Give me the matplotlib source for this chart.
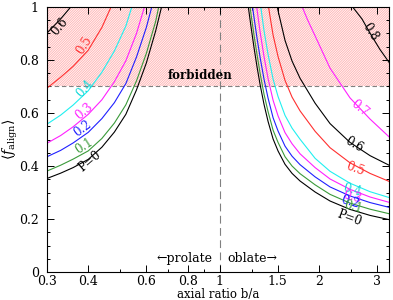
import numpy as np
import matplotlib
matplotlib.use("Agg")
import matplotlib.pyplot as plt
from matplotlib.ticker import FixedLocator, NullFormatter

plt.rcParams['font.family'] = ['DejaVu Serif']
plt.rcParams['mathtext.fontset'] = 'dejavuserif'
plt.rcParams['hatch.linewidth'] = 0.5
plt.rcParams['hatch.color'] = '#ffaaaa'

# ---- prolate side (b/a < 1) ----
pro_x_00 = [0.30, 0.33, 0.36, 0.40, 0.44, 0.48, 0.52, 0.56, 0.60, 0.64, 0.667]
pro_y_00 = [0.353, 0.373, 0.394, 0.425, 0.471, 0.528, 0.595, 0.687, 0.789, 0.909, 1.0]
pro_x_01 = [0.30, 0.33, 0.36, 0.40, 0.44, 0.48, 0.52, 0.56, 0.60, 0.64, 0.654]
pro_y_01 = [0.381, 0.403, 0.426, 0.457, 0.504, 0.562, 0.631, 0.721, 0.825, 0.945, 1.0]
pro_x_02 = [0.30, 0.33, 0.36, 0.40, 0.44, 0.48, 0.52, 0.56, 0.60, 0.623]
pro_y_02 = [0.435, 0.459, 0.487, 0.527, 0.579, 0.639, 0.711, 0.811, 0.923, 1.0]
pro_x_03 = [0.30, 0.33, 0.36, 0.40, 0.44, 0.48, 0.52, 0.56, 0.592]
pro_y_03 = [0.486, 0.515, 0.548, 0.595, 0.650, 0.718, 0.797, 0.900, 1.0]
pro_x_04 = [0.30, 0.33, 0.36, 0.40, 0.44, 0.48, 0.52, 0.542]
pro_y_04 = [0.558, 0.592, 0.630, 0.684, 0.754, 0.834, 0.928, 1.0]
pro_x_05 = [0.30, 0.33, 0.36, 0.40, 0.44, 0.469]
pro_y_05 = [0.694, 0.735, 0.776, 0.837, 0.923, 1.0]
pro_x_06 = [0.30, 0.33, 0.354]
pro_y_06 = [0.902, 0.955, 1.0]

# ---- oblate side (b/a > 1) ----
obl_x_00 = [1.222, 1.2455, 1.272, 1.2987, 1.3265, 1.3637, 1.4025, 1.4524, 1.5036,
            1.5785, 1.6578, 1.753, 1.947, 2.161, 2.484, 2.857, 3.262]
obl_y_00 = [1.0, 0.9245, 0.8453, 0.7736, 0.7075, 0.632, 0.568, 0.502, 0.4566,
            0.4064, 0.3721, 0.3434, 0.3019, 0.2679, 0.2362, 0.2136, 0.1977]
obl_x_01 = [1.237, 1.2455, 1.272, 1.2987, 1.3265, 1.3637, 1.4025, 1.4524, 1.5036,
            1.5785, 1.6578, 1.753, 1.947, 2.161, 2.484, 2.857, 3.262]
obl_y_01 = [1.0, 0.971, 0.892, 0.820, 0.750, 0.670, 0.605, 0.535, 0.489,
            0.435, 0.400, 0.371, 0.329, 0.293, 0.260, 0.237, 0.220]
obl_x_02 = [1.2587, 1.272, 1.2987, 1.3265, 1.3637, 1.4025, 1.4524, 1.5036,
            1.5785, 1.6578, 1.753, 1.947, 2.161, 2.484, 2.857, 3.262]
obl_y_02 = [1.0, 0.959, 0.882, 0.810, 0.727, 0.656, 0.582, 0.532,
            0.475, 0.437, 0.405, 0.359, 0.321, 0.287, 0.262, 0.244]
obl_x_03 = [1.296, 1.2987, 1.3265, 1.3637, 1.4025, 1.4524, 1.5036,
            1.5785, 1.6578, 1.753, 1.947, 2.161, 2.484, 2.857, 3.262]
obl_y_03 = [1.0, 0.990, 0.906, 0.812, 0.730, 0.648, 0.589,
            0.526, 0.484, 0.446, 0.394, 0.351, 0.312, 0.283, 0.263]
obl_x_04 = [1.333, 1.3637, 1.4025, 1.4524, 1.5036, 1.5785, 1.6578, 1.753,
            1.947, 2.161, 2.484, 2.857, 3.262]
obl_y_04 = [1.0, 0.910, 0.821, 0.728, 0.662, 0.591, 0.543, 0.501,
            0.429, 0.380, 0.335, 0.303, 0.281]
obl_x_05 = [1.407, 1.43, 1.4524, 1.5036, 1.5785, 1.6578, 1.753, 1.947, 2.161,
            2.484, 2.857, 3.262]
obl_y_05 = [1.0, 0.945, 0.894, 0.813, 0.723, 0.660, 0.608, 0.531, 0.469,
            0.412, 0.372, 0.342]
obl_x_06 = [1.496, 1.5036, 1.5785, 1.6578, 1.753, 1.947, 2.161, 2.484, 2.857, 3.262]
obl_y_06 = [1.0, 0.986, 0.874, 0.796, 0.731, 0.637, 0.560, 0.489, 0.439, 0.403]
obl_x_07 = [1.78, 1.85, 1.947, 2.161, 2.484, 2.857, 3.262]
obl_y_07 = [1.0, 0.950, 0.891, 0.769, 0.657, 0.577, 0.510]
obl_x_08 = [2.53, 2.70, 2.857, 3.06, 3.262]
obl_y_08 = [1.0, 0.955, 0.901, 0.840, 0.791]

black, green, blue = 'black', '#3a9a3a', '#2020ff'
magenta, cyan, red = '#ff20ff', '#20f0f0', '#ff3030'

fig = plt.figure(figsize=(3.93, 3.00), dpi=100)
ax = fig.add_axes([0.1196, 0.0933, 0.8704, 0.8834])
ax.set_xscale('log')
ax.set_xlim(0.3, 3.262)
ax.set_ylim(0, 1)

# forbidden region
ax.fill_between([0.3, 3.262], 0.7, 1.0, facecolor='#fff4f4', edgecolor='#ffaaaa',
                hatch='/' * 14, linewidth=0, zorder=0)
ax.axhline(0.7, color='#808080', ls=(0, (4, 2.5)), lw=0.8, zorder=1)
ax.axvline(1.0, color='#808080', ls=(0, (7, 4)), lw=0.8, zorder=1)

curves = [
    (pro_x_00, pro_y_00, black), (pro_x_01, pro_y_01, green),
    (pro_x_02, pro_y_02, blue), (pro_x_03, pro_y_03, magenta),
    (pro_x_04, pro_y_04, cyan), (pro_x_05, pro_y_05, red),
    (pro_x_06, pro_y_06, black),
    (obl_x_00, obl_y_00, black), (obl_x_01, obl_y_01, green),
    (obl_x_02, obl_y_02, blue), (obl_x_03, obl_y_03, magenta),
    (obl_x_04, obl_y_04, cyan), (obl_x_05, obl_y_05, red),
    (obl_x_06, obl_y_06, black), (obl_x_07, obl_y_07, magenta),
    (obl_x_08, obl_y_08, black),
]
for xs, ys, c in curves:
    ax.plot(xs, ys, color=c, lw=0.8, zorder=2)

# curve labels
kw = dict(fontsize=8.5, ha='center', va='center', zorder=3)
ax.text(0.3285, 0.925, '0.6', color=black, rotation=50, **kw)
ax.text(0.3885, 0.857, '0.5', color=red, rotation=58, **kw)
ax.text(0.391, 0.690, '0.4', color='#10d8d8', rotation=48, **kw)
ax.text(0.3885, 0.605, '0.3', color=magenta, rotation=40, **kw)
ax.text(0.3857, 0.540, '0.2', color=blue, rotation=37, **kw)
ax.text(0.3885, 0.475, '0.1', color=green, rotation=33, **kw)
ax.text(0.405, 0.419, 'P=0', color=black, rotation=40, **kw)

ax.text(2.857, 0.906, '0.8', color=black, rotation=-57, **kw)
ax.text(2.664, 0.619, '0.7', color=magenta, rotation=-40, **kw)
ax.text(2.555, 0.479, '0.6', color=black, rotation=-30, **kw)
ax.text(2.573, 0.389, '0.5', color=red, rotation=-20, **kw)
ax.text(2.52, 0.309, '0.4', color='#10d8d8', rotation=-15, **kw)
ax.text(2.52, 0.283, '0.3', color=magenta, rotation=-15, **kw)
ax.text(2.484, 0.264, '0.2', color=blue, rotation=-15, **kw)
ax.text(2.538, 0.245, '0.1', color=green, rotation=-15, **kw)
ax.text(2.467, 0.204, 'P=0', color=black, rotation=-20, **kw)

ax.text(0.871, 0.743, 'forbidden', fontsize=8.5, fontweight='bold',
        ha='center', va='center')
ax.text(0.949, 0.05, '\u2190prolate', fontsize=9, ha='right', va='center')
ax.text(1.053, 0.05, 'oblate\u2192', fontsize=9, ha='left', va='center')

# ticks
ax.xaxis.set_major_locator(FixedLocator([0.3, 0.4, 0.6, 0.8, 1, 1.5, 2, 3]))
ax.xaxis.set_minor_locator(FixedLocator([0.5, 0.7, 0.9, 1.25, 2.5]))
ax.set_xticklabels(['0.3', '0.4', '0.6', '0.8', '1', '1.5', '2', '3'])
ax.xaxis.set_minor_formatter(NullFormatter())
ax.set_yticks([0, 0.2, 0.4, 0.6, 0.8, 1])
ax.set_yticklabels(['0', '0.2', '0.4', '0.6', '0.8', '1'])
ax.set_yticks(np.arange(0, 1.001, 0.05), minor=True)
ax.tick_params(which='both', direction='in', top=True, right=True,
               labelsize=9, width=0.7)
ax.tick_params(axis='x', pad=2)
ax.tick_params(axis='y', pad=6)
ax.tick_params(which='major', length=5)
ax.tick_params(which='minor', length=2.5)
for s in ax.spines.values():
    s.set_linewidth(0.8)

ax.set_xlabel('axial ratio b/a', fontsize=8.5)
ax.xaxis.set_label_coords(0.5, -0.062)
ax.set_ylabel(r'$\langle f_{\rm align}\rangle$', fontsize=10)
ax.yaxis.set_label_coords(-0.08, 0.5)

fig.savefig('out.png', dpi=100)
